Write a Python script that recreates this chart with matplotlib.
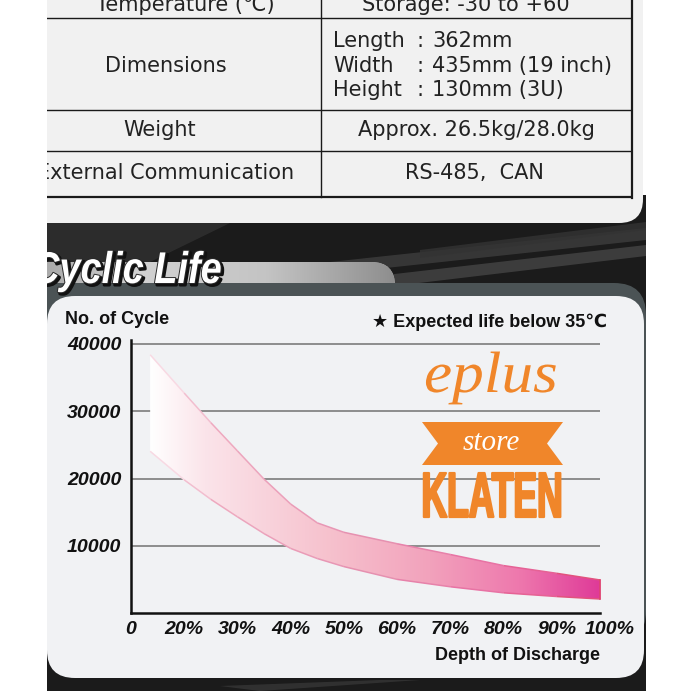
import matplotlib
matplotlib.use('Agg')
import matplotlib.pyplot as plt
import numpy as np
from matplotlib.patches import Rectangle, FancyBboxPatch, Polygon, PathPatch
from matplotlib.colors import LinearSegmentedColormap, to_rgba
from matplotlib.collections import LineCollection
from matplotlib.transforms import Affine2D
import matplotlib.patheffects as pe

# ---------------- data ----------------
dod_labels = ['0', '20%', '30%', '40%', '50%', '60%', '70%', '80%', '90%', '100%']
cycle_ticks = [10000, 20000, 30000, 40000]
cycle_tick_labels = ['10000', '20000', '30000', '40000']
band_pos = [0.36, 1.0, 1.5, 2.0, 2.5, 3.0, 3.5, 4.0, 5.0, 6.0, 7.0, 8.0, 8.82]
band_upper = [38400, 32700, 28300, 24100, 19900, 16200, 13400, 12000, 10300, 8700, 7050, 5900, 4900]
band_lower = [24050, 19800, 16900, 14300, 11800, 9600, 8100, 6900, 5000, 3900, 3000, 2450, 2080]

spec_rows = ['Temperature (℃)', 'Dimensions', 'Weight', 'External Communication']
spec_values = ['Storage: -30 to +60', '', 'Approx. 26.5kg/28.0kg', 'RS-485,  CAN']
dim_labels = ['Length', 'Width', 'Height']
dim_values = ['362mm', '435mm (19 inch)', '130mm (3U)']

# ---------------- helpers ----------------
class Squeeze(pe.AbstractPathEffect):
    def __init__(self, sx=1.0, cx=0.0, dx=0.0, dy=0.0, stroke=None, lw=0.0, fill=None):
        super().__init__()
        self.sx, self.cx, self.dx, self.dy = sx, cx, dx, dy
        self.stroke, self.lw, self.fill = stroke, lw, fill

    def draw_path(self, renderer, gc, tpath, affine, rgbFace=None):
        aff = affine + Affine2D().translate(-self.cx, 0).scale(self.sx, 1).translate(self.cx + self.dx, self.dy)
        gc0 = renderer.new_gc()
        gc0.copy_properties(gc)
        face = rgbFace if self.fill is None else to_rgba(self.fill)
        if self.stroke is not None:
            gc0.set_foreground(self.stroke)
            gc0.set_linewidth(self.lw)
        else:
            gc0.set_linewidth(0)
        renderer.draw_path(gc0, tpath, aff, face)
        gc0.restore()


fig = plt.figure(figsize=(6.91, 6.91), dpi=100)
fig.patch.set_facecolor('white')

def pix_axes(z):
    a = fig.add_axes([0, 0, 1, 1], zorder=z)
    a.set_xlim(0, 691)
    a.set_ylim(691, 0)
    a.axis('off')
    a.patch.set_alpha(0)
    return a

bg = pix_axes(0)

# dark background band
bg.add_patch(Rectangle((47, 195), 599, 496, facecolor='#1b1b1b', edgecolor='none', zorder=1))
for pts, c, a in [
    ([(47, 223), (230, 223), (150, 262), (47, 262)], '#2f2f2f', 0.9),
    ([(330, 262), (646, 228), (646, 240), (330, 274)], '#3e3e3e', 0.8),
    ([(360, 278), (646, 245), (646, 256), (360, 290)], '#454545', 0.8),
    ([(420, 250), (646, 222), (646, 230), (420, 258)], '#333333', 0.8),
    ([(220, 686), (380, 680), (420, 680), (260, 691)], '#3a3a3a', 0.7),
]:
    bg.add_patch(Polygon(pts, closed=True, facecolor=c, edgecolor='none', alpha=a, zorder=2))

# table card
bg.add_patch(FancyBboxPatch((10, -40), 633, 263, boxstyle='round,pad=0,rounding_size=24',
                            facecolor='#f1f1f1', edgecolor='none', zorder=3))
# title tab
tab = FancyBboxPatch((10, 262), 385, 60, boxstyle='round,pad=0,rounding_size=24',
                     facecolor='#b8b8b8', edgecolor='none', zorder=3)
bg.add_patch(tab)
tab_cmap = LinearSegmentedColormap.from_list('tab', ['#9a9a9a', '#d2d2d2', '#c4c4c4', '#8e8e8e'])
tim = bg.imshow(np.linspace(0, 1, 256).reshape(1, -1), extent=[10, 395, 322, 262], aspect='auto',
                cmap=tab_cmap, zorder=3.1)
tim.set_clip_path(tab)
# slate frame and chart panel
bg.add_patch(FancyBboxPatch((10, 283), 636, 360, boxstyle='round,pad=0,rounding_size=32',
                            facecolor='#4b5355', edgecolor='none', zorder=4))
bg.add_patch(FancyBboxPatch((47, 296), 597, 382, boxstyle='round,pad=0,rounding_size=28',
                            facecolor='#f1f2f4', edgecolor='none', zorder=5))
bg.set_xlim(0, 691)
bg.set_ylim(691, 0)

# table lines
lc = '#1a1a1a'
for y, lw in [(18, 1.0), (110, 1.0), (151, 1.0), (197, 1.6)]:
    bg.plot([40, 632], [y, y], color=lc, lw=lw, zorder=6, solid_capstyle='butt')
bg.plot([321, 321], [0, 197], color=lc, lw=1.0, zorder=6)
bg.plot([632, 632], [0, 197.8], color=lc, lw=1.6, zorder=6)

tfont = dict(family='DejaVu Sans', fontsize=15, color='#222222', zorder=7)
row_y = [11, 66, 130, 173]
row_x = [185, 166, 160, 166]
for lbl, x, y in zip(spec_rows, row_x, row_y):
    bg.text(x, y, lbl, ha='center', va='baseline' if y == 11 else 'center', **tfont)
val_x = [466, 0, 476, 474]
for v, x, y in zip(spec_values, val_x, row_y):
    if v:
        bg.text(x, y, v, ha='center', va='baseline' if y == 11 else 'center', **tfont)
for i, (l, v) in enumerate(zip(dim_labels, dim_values)):
    y = 41 + i * 24.5
    bg.text(333, y, l, ha='left', va='center', **tfont)
    bg.text(417, y, ':', ha='left', va='center', **tfont)
    bg.text(432, y, v, ha='left', va='center', **tfont)

# ---------------- chart ----------------
ax = fig.add_axes([131 / 691, 1 - 613 / 691, (610 - 131) / 691, (613 - 340) / 691], zorder=2)
ax.patch.set_alpha(0)
xmax_axis = band_pos[-1]
ax.hlines(cycle_ticks, 0, xmax_axis, colors='#858585', lw=1.3, zorder=1)

poly = ax.fill_between(band_pos, band_lower, band_upper, facecolor='none', edgecolor='none')
path = poly.get_paths()[0]
clip = PathPatch(path, facecolor='none', edgecolor='none', transform=ax.transData)
ax.add_patch(clip)
band_cmap = LinearSegmentedColormap.from_list(
    'band', [(0, '#ffffff'), (0.12, '#fbe4ea'), (0.4, '#f6c1cd'), (0.62, '#f2a2bc'),
             (0.82, '#ee78ad'), (1.0, '#df3a98')])
im = ax.imshow(np.linspace(0, 1, 512).reshape(1, -1), extent=[band_pos[0], band_pos[-1], 0, 40000],
               aspect='auto', cmap=band_cmap, zorder=2, interpolation='bilinear')
im.set_clip_path(clip)

edge_cmap = LinearSegmentedColormap.from_list(
    'edge', [(0, '#fbe8ee'), (0.15, '#eeaac0'), (0.5, '#e690b0'), (0.8, '#e86aa0'), (1.0, '#e04a72')])
span = band_pos[-1] - band_pos[0]
for ys in (band_upper, band_lower):
    segs = [[(band_pos[i], ys[i]), (band_pos[i + 1], ys[i + 1])] for i in range(len(band_pos) - 1)]
    cols = [edge_cmap(((band_pos[i] + band_pos[i + 1]) / 2 - band_pos[0]) / span) for i in range(len(band_pos) - 1)]
    ax.add_collection(LineCollection(segs, colors=cols, linewidths=1.1, zorder=3))
ax.plot([band_pos[-1], band_pos[-1]], [band_lower[-1], band_upper[-1]], color='#e0456e', lw=1.2, zorder=3)

ax.set_xlim(0, 9)
ax.set_ylim(0, 40000 * (613 - 340) / (613 - 344))
for s in ('top', 'right'):
    ax.spines[s].set_visible(False)
for s in ('left', 'bottom'):
    ax.spines[s].set_linewidth(1.8)
    ax.spines[s].set_color('#111111')
ax.spines['bottom'].set_bounds(0, xmax_axis)
ax.set_xticks(range(len(dod_labels)))
ax.set_xticklabels(dod_labels)
ax.set_yticks(cycle_ticks)
ax.set_yticklabels(cycle_tick_labels)
ax.tick_params(length=0)
ax.tick_params(axis='x', pad=6)
ax.tick_params(axis='y', pad=7)
for lab in ax.get_xticklabels() + ax.get_yticklabels():
    lab.set_fontfamily('Liberation Sans')
    lab.set_fontweight('bold')
    lab.set_fontstyle('italic')
    lab.set_fontsize(14)
    lab.set_color('#111111')

# ---------------- overlay ----------------
top = pix_axes(3)
lf = dict(family=['Liberation Sans', 'DejaVu Sans'], fontweight='bold', color='#111111')
top.text(65, 319, 'No. of Cycle', ha='left', va='center', fontsize=13, **lf)
top.text(607, 322, '★ Expected life below 35℃', ha='right', va='center', fontsize=13, **lf)
top.text(600, 656, 'Depth of Discharge', ha='right', va='center', fontsize=13, **lf)

orange = '#f0862a'
t_eplus = top.text(491, 392, 'eplus', ha='center', va='baseline', fontsize=42,
                   family='Liberation Serif', style='italic', color=orange, zorder=5)
top.add_patch(Polygon([(422, 422), (563, 422), (547, 443.5), (563, 465), (422, 465), (438, 443.5)],
                      closed=True, facecolor=orange, edgecolor='none', zorder=5))
top.text(491, 443, 'store', ha='center', va='center', fontsize=21, family='Liberation Serif',
         style='italic', color='white', zorder=6)
t_klaten = top.text(492, 517, 'KLATEN', ha='center', va='baseline', fontsize=46,
                    family='Liberation Sans', fontweight='bold', color=orange, zorder=5)

t_title = top.text(32, 283, 'Cyclic Life', ha='left', va='baseline', fontsize=32,
                   family='Liberation Sans', fontweight='bold', style='italic', color='white', zorder=5)

top.add_patch(Rectangle((0, 0), 47, 691, facecolor='white', edgecolor='none', zorder=10))
top.add_patch(Rectangle((646, 0), 45, 691, facecolor='white', edgecolor='none', zorder=10))

fig.canvas.draw()
rend = fig.canvas.get_renderer()

def fit(t, target, anchor='center', extra=None, main=None):
    bb = t.get_window_extent(renderer=rend)
    sx = target / bb.width
    cx = bb.x0 if anchor == 'left' else (bb.x0 + bb.x1) / 2
    effects = []
    if extra:
        for kw in extra:
            effects.append(Squeeze(sx, cx, **kw))
    effects.append(Squeeze(sx, cx, **(main or {})))
    t.set_path_effects(effects)

fit(t_eplus, 134)
fit(t_klaten, 141, main=dict(stroke=orange, lw=1.6))
fit(t_title, 190, anchor='left',
    extra=[dict(dx=2, dy=-2, fill='#111111', stroke='#111111', lw=2.2),
           dict(stroke='#2a2a2a', lw=1.4)])

fig.savefig('out.png', dpi=100, facecolor='white')
